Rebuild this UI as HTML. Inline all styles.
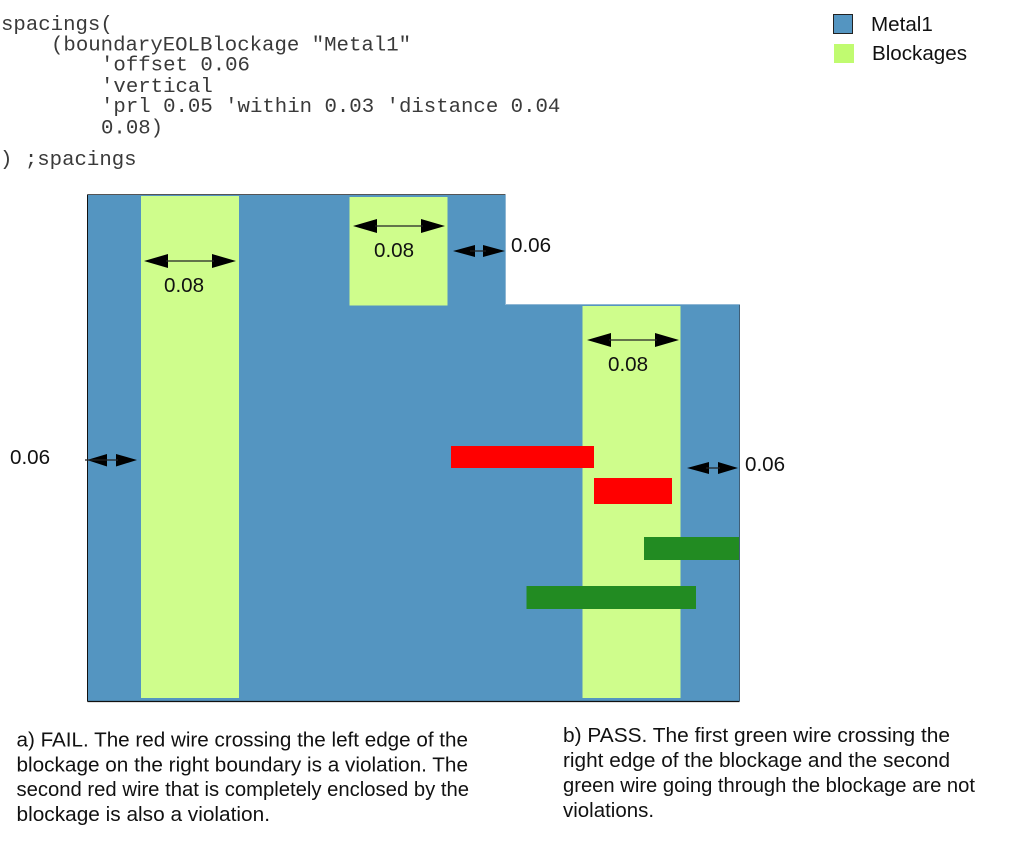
<!DOCTYPE html>
<html>
<head>
<meta charset="utf-8">
<style>
html,body{margin:0;padding:0;background:#fff;width:1013px;height:843px;overflow:hidden}
svg{display:block}
.m{font-family:"Liberation Mono",monospace;font-size:20.7px;fill:#3a3a3a}
.s{font-family:"Liberation Sans",sans-serif;font-size:20.6px;fill:#111}
.c{font-family:"Liberation Sans",sans-serif;font-size:20px;fill:#111}
</style>
</head>
<body>
<svg width="1013" height="843" viewBox="0 0 1013 843" xmlns="http://www.w3.org/2000/svg">
<text class="m" x="1" y="30">spacings(</text>
<text class="m" x="51" y="50.5">(boundaryEOLBlockage "Metal1"</text>
<text class="m" x="101" y="70.5">'offset 0.06</text>
<text class="m" x="101" y="92">'vertical</text>
<text class="m" x="101" y="112">'prl 0.05 'within 0.03 'distance 0.04</text>
<text class="m" x="101" y="133.500">0.08)</text>
<text class="m" x="0" y="165">) ;spacings</text>

<rect x="833.5" y="14.5" width="19" height="19" fill="#5495c1" stroke="#222" stroke-width="1"/>
<rect x="834" y="44" width="20" height="19" fill="#c0fb70"/>
<text class="s" x="871" y="31">Metal1</text>
<text class="s" x="872" y="60">Blockages</text>

<path d="M87.5 194.5H505.5V304.5H739.5V701.5H87.5Z" fill="#5495c1"/>
<path d="M87.5 701.500V194.5" fill="none" stroke="#111" stroke-width="1"/>
<path d="M87.5 194.500H505.5" fill="none" stroke="#555" stroke-width="1"/>
<path d="M87.5 701.5H739.5" fill="none" stroke="#111" stroke-width="1.2"/>
<path d="M739.5 304.5V701.5" fill="none" stroke="#3f5f78" stroke-width="1"/>
<path d="M505.5 194.5V304.5H739.5" fill="none" stroke="#8fb7d4" stroke-width="1"/>

<rect x="141" y="196" width="98" height="502" fill="#cffd8c"/>
<rect x="349.500" y="197" width="98" height="108.500" fill="#cffd8c"/>
<rect x="582.500" y="306" width="98" height="392" fill="#cffd8c"/>

<rect x="451" y="446" width="143" height="22" fill="#ff0000"/>
<rect x="594" y="478" width="78" height="26" fill="#ff0000"/>
<rect x="644" y="537" width="95" height="23" fill="#228b22"/>
<rect x="526.500" y="586" width="169.500" height="23" fill="#228b22"/>

<g fill="#000" stroke="none">
<path d="M144 261L168 254V268ZM236 261L212 254V268Z"/>
<path d="M353 226L377 219V233ZM445 226L421 219V233Z"/>
<path d="M453 251L475 245V257ZM505 251L483 245V257Z"/>
<path d="M587 340L611 333V347ZM679 340L655 333V347Z"/>
<path d="M87 460L107 454V466.500ZM137 460L116 454V466.500Z"/>
<path d="M687 468L709 462V474ZM738 468L718 462V474Z"/>
</g>
<g stroke="#222" stroke-width="1.200">
<path d="M166 261H214M375 226H423M470 251H486M609 340H657M85 460H118M706 468H720"/>
</g>

<text class="s" x="164" y="292">0.08</text>
<text class="s" x="374" y="257">0.08</text>
<text class="s" x="511" y="252">0.06</text>
<text class="s" x="608" y="371">0.08</text>
<text class="s" x="10" y="464">0.06</text>
<text class="s" x="745" y="471">0.06</text>

<text class="c" x="16.500" y="746.500" textLength="451.500" lengthAdjust="spacingAndGlyphs">a) FAIL. The red wire crossing the left edge of the</text>
<text class="c" x="16.500" y="771.500" textLength="451.500" lengthAdjust="spacingAndGlyphs">blockage on the right boundary is a violation. The</text>
<text class="c" x="16.500" y="796" textLength="452.500" lengthAdjust="spacingAndGlyphs">second red wire that is completely enclosed by the</text>
<text class="c" x="16.500" y="821" textLength="253.500" lengthAdjust="spacingAndGlyphs">blockage is also a violation.</text>

<text class="c" x="563" y="742" textLength="387" lengthAdjust="spacingAndGlyphs">b) PASS. The first green wire crossing the</text>
<text class="c" x="563" y="767" textLength="387" lengthAdjust="spacingAndGlyphs">right edge of the blockage and the second</text>
<text class="c" x="563" y="792" textLength="412" lengthAdjust="spacingAndGlyphs">green wire going through the blockage are not</text>
<text class="c" x="563" y="817" textLength="91" lengthAdjust="spacingAndGlyphs">violations.</text>
</svg>
</body>
</html>
